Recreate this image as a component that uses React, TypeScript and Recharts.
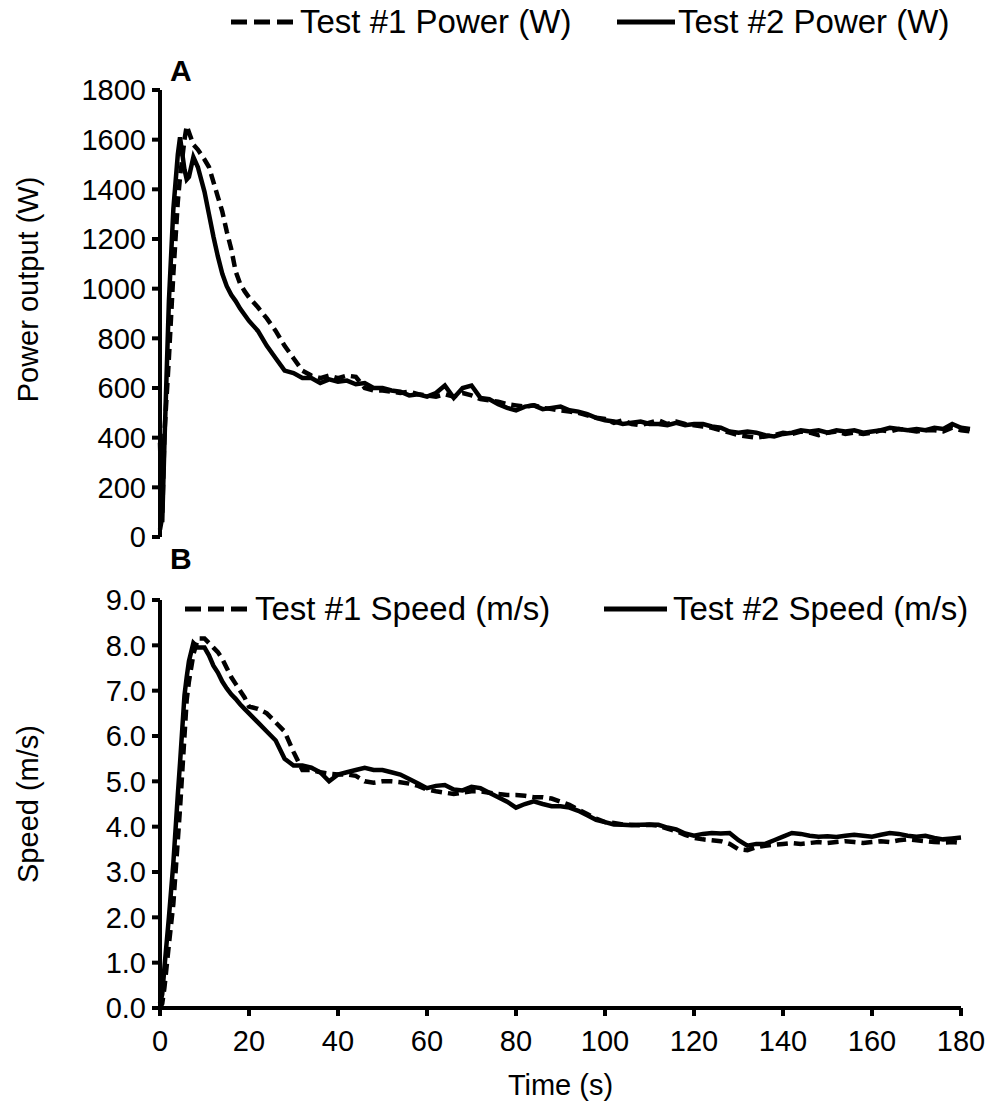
import { LineChart, Line, XAxis, YAxis, Legend } from "recharts";

// time in seconds
const time = [
  0, 0.5, 1, 2, 3, 4, 4.5, 5.5, 6, 6.5, 7.5, 8.5, 10, 11, 12, 13, 14, 15, 16, 17,
  18, 19, 20, 22, 24, 26, 28, 30, 32, 34, 36, 38, 40,
  42, 44, 46, 48, 50, 52, 54, 56, 58, 60, 62, 64, 66, 68, 70, 72, 74, 76, 78, 80,
  82, 84, 86, 88, 90, 92, 94, 96, 98, 100, 102, 104, 106, 108, 110, 112, 114, 116,
  118, 120, 122, 124, 126, 128, 130, 132, 134, 136, 138, 140, 142, 144, 146, 148,
  150, 152, 154, 156, 158, 160, 162, 164, 166, 168, 170, 172, 174, 176, 178, 180,
  182,
];

// Test #1 power (W), dashed
const power1 = [
  30, 80, 420, 720, 1060, 1350, 1450, 1600, 1655, 1630, 1580, 1560, 1520, 1490,
  1430, 1370, 1310, 1230, 1160, 1070, 1020, 990, 965, 925, 880, 830, 770, 720,
  670, 650, 640, 650, 640,
  650, 645, 600, 590, 590, 585, 580, 585, 575, 570,
  565, 575, 565, 580, 570, 555, 550, 545, 535, 530,
  525, 530, 520, 515, 510, 505, 500, 490, 480, 475,
  460, 470, 455, 450, 460, 470, 455, 465, 455, 450,
  445, 440, 430, 420, 410, 405, 400, 405, 410, 420,
  415, 425, 420, 410, 420, 425, 415, 420, 415, 420,
  430, 425, 435, 430, 425, 430, 430, 425, 440, 430,
  425,
];

// Test #2 power (W), solid
const power2 = [
  380, 60, 380, 950, 1320, 1540, 1610, 1480, 1440, 1450, 1530, 1490, 1390, 1300,
  1210, 1130, 1060, 1010, 975, 950, 920, 895, 870, 830, 770, 720, 670, 660, 640,
  640, 620, 635, 625,
  630, 615, 620, 600, 600, 590, 585, 570, 575, 565,
  580, 610, 560, 600, 610, 560, 555, 535, 520, 510,
  525, 530, 515, 520, 525, 510, 505, 495, 480, 470,
  465, 455, 460, 465, 455, 455, 450, 460, 450, 455,
  455, 445, 440, 425, 420, 425, 420, 410, 405, 415,
  420, 430, 425, 430, 420, 430, 425, 430, 420, 425,
  430, 440, 435, 430, 435, 430, 440, 435, 455, 440,
  435,
];

// Test #1 speed (m/s), dashed
const speed1 = [
  0.0, 0.1, 0.45, 1.4, 2.3, 3.7, 4.4, 6.0, 6.8, 7.2, 7.8, 8.15, 8.15, 8.05, 7.95,
  7.85, 7.7, 7.5, 7.3, 7.15, 7.0, 6.85, 6.65, 6.6, 6.5, 6.3, 6.1, 5.65, 5.25, 5.25,
  5.2, 5.17, 5.15,
  5.15, 5.12, 5.0, 4.97, 5.0, 5.0, 4.98, 4.95, 4.9, 4.82,
  4.78, 4.75, 4.72, 4.75, 4.78, 4.78, 4.75, 4.72, 4.7, 4.7,
  4.68, 4.65, 4.65, 4.62, 4.55, 4.48, 4.38, 4.28, 4.18, 4.1,
  4.08, 4.05, 4.04, 4.03, 4.04, 4.02, 3.96, 3.9, 3.82, 3.75,
  3.72, 3.7, 3.68, 3.62, 3.5, 3.48, 3.55, 3.58, 3.6, 3.62,
  3.64, 3.62, 3.64, 3.66, 3.64, 3.66, 3.68, 3.66, 3.64, 3.66,
  3.68, 3.66, 3.7, 3.72, 3.7, 3.68, 3.66, 3.65, 3.66, 3.64,
];

// Test #2 speed (m/s), solid
const speed2 = [
  0.1, 0.3, 0.9, 2.0, 3.2, 4.7, 5.4, 6.9, 7.3, 7.65, 8.05, 7.95, 7.95, 7.78, 7.55,
  7.4, 7.2, 7.05, 6.92, 6.82, 6.7, 6.6, 6.5, 6.3, 6.1, 5.9, 5.5, 5.35, 5.35, 5.3,
  5.2, 5.0, 5.15,
  5.2, 5.25, 5.3, 5.25, 5.25, 5.2, 5.15, 5.05, 4.95, 4.85,
  4.9, 4.92, 4.82, 4.8, 4.88, 4.85, 4.75, 4.65, 4.55, 4.42,
  4.5, 4.56, 4.5, 4.45, 4.45, 4.42, 4.35, 4.25, 4.15, 4.1,
  4.05, 4.04, 4.03, 4.04, 4.05, 4.04, 3.98, 3.94, 3.85, 3.8,
  3.84, 3.86, 3.85, 3.86, 3.7, 3.58, 3.62, 3.62, 3.7, 3.78,
  3.86, 3.84, 3.8, 3.78, 3.79, 3.77, 3.8, 3.82, 3.8, 3.78,
  3.82, 3.86, 3.84, 3.8, 3.78, 3.8, 3.75, 3.72, 3.74, 3.76,
];

const powerTicks = [0, 200, 400, 600, 800, 1000, 1200, 1400, 1600, 1800];
const speedTicks = [0, 1, 2, 3, 4, 5, 6, 7, 8, 9];
const timeTicks = [0, 20, 40, 60, 80, 100, 120, 140, 160, 180];

const powerData = time.map((t, i) => ({ t, p1: power1[i], p2: power2[i] }));
const speedData = time
  .slice(0, speed1.length)
  .map((t, i) => ({ t, s1: speed1[i], s2: speed2[i] }));

const font = "'Liberation Sans', Arial, sans-serif";
const tickStyle = { fill: "#000", fontSize: 29, fontFamily: font };
const axisStroke = { stroke: "#000", strokeWidth: 4 };

const LegendRow = ({ payload, lefts, samples, gaps }: any) => (
  <div style={{ position: "relative", height: 40, fontFamily: font }}>
    {(payload || []).map((e: any, i: number) => (
      <div
        key={e.value}
        style={{
          position: "absolute",
          left: lefts[i],
          top: 0,
          height: 40,
          display: "flex",
          alignItems: "center",
          whiteSpace: "nowrap",
        }}
      >
        <svg width={samples[i]} height={10}>
          <line
            x1={0}
            y1={5}
            x2={samples[i]}
            y2={5}
            stroke="#000"
            strokeWidth={5}
            strokeDasharray={e.payload?.strokeDasharray ? "16 7" : undefined}
          />
        </svg>
        <span style={{ marginLeft: gaps[i], fontSize: 33, color: "#000" }}>{e.value}</span>
      </div>
    ))}
  </div>
);

const yTitle = (text: string, shift: number) => (props: any) => {
  const { x, y, height } = props.viewBox;
  const cx = x + 28;
  const cy = y + height / 2 + shift;
  return (
    <text
      x={cx}
      y={cy}
      transform={`rotate(-90 ${cx} ${cy})`}
      textAnchor="middle"
      dominantBaseline="central"
      fontSize={29}
      fontFamily={font}
      fill="#000"
    >
      {text}
    </text>
  );
};

const xTitle = (props: any) => {
  const { x, y, width } = props.viewBox;
  return (
    <text
      x={x + width / 2}
      y={y + 77}
      textAnchor="middle"
      dominantBaseline="central"
      fontSize={29}
      fontFamily={font}
      fill="#000"
    >
      Time (s)
    </text>
  );
};

const panelTag = (top: number): any => ({
  position: "absolute",
  left: 170,
  top,
  fontFamily: font,
  fontWeight: "bold",
  fontSize: 30,
  color: "#000",
});

export default function App() {
  return (
    <div style={{ position: "absolute", left: 0, top: 0, width: 994, height: 1112, background: "#fff" }}>
      <div style={{ position: "absolute", left: 0, top: 0 }}>
        <LineChart width={994} height={560} data={powerData} margin={{ top: 90, right: 24, bottom: 23, left: 0 }}>
          <XAxis dataKey="t" type="number" domain={[0, 182]} hide />
          <YAxis
            width={160}
            domain={[0, 1800]}
            ticks={powerTicks}
            interval={0}
            tick={tickStyle}
            tickSize={8}
            tickMargin={6}
            axisLine={axisStroke}
            tickLine={axisStroke}
            label={{ content: yTitle("Power output (W)", -24) }}
          />
          <Legend
            layout="horizontal"
            verticalAlign="middle"
            align="center"
            wrapperStyle={{ top: 2, left: 0, width: 994, height: 40 }}
            content={(p: any) => (
              <LegendRow payload={p.payload} lefts={[231, 617]} samples={[63, 58]} gaps={[6, 3]} />
            )}
          />
          <Line
            dataKey="p1"
            name="Test #1 Power (W)"
            stroke="#000"
            strokeWidth={4.5}
            strokeDasharray="11 6"
            dot={false}
            type="linear"
            isAnimationActive={false}
          />
          <Line
            dataKey="p2"
            name="Test #2 Power (W)"
            stroke="#000"
            strokeWidth={4.5}
            dot={false}
            type="linear"
            isAnimationActive={false}
          />
        </LineChart>
      </div>
      <div style={{ position: "absolute", left: 0, top: 560 }}>
        <LineChart width={994} height={552} data={speedData} margin={{ top: 40, right: 33, bottom: 0, left: 0 }}>
          <XAxis
            dataKey="t"
            type="number"
            domain={[0, 180]}
            ticks={timeTicks}
            interval={0}
            height={104}
            tick={tickStyle}
            tickSize={8}
            tickMargin={14}
            axisLine={axisStroke}
            tickLine={axisStroke}
            label={{ content: xTitle }}
          />
          <YAxis
            width={160}
            domain={[0, 9]}
            ticks={speedTicks}
            interval={0}
            tickFormatter={(v: number) => v.toFixed(1)}
            tick={tickStyle}
            tickSize={8}
            tickMargin={6}
            axisLine={axisStroke}
            tickLine={axisStroke}
            label={{ content: yTitle("Speed (m/s)", 0) }}
          />
          <Legend
            layout="horizontal"
            verticalAlign="middle"
            align="center"
            wrapperStyle={{ top: 29, left: 0, width: 994, height: 40 }}
            content={(p: any) => (
              <LegendRow payload={p.payload} lefts={[185, 604]} samples={[62, 63]} gaps={[8, 6]} />
            )}
          />
          <Line
            dataKey="s1"
            name="Test #1 Speed (m/s)"
            stroke="#000"
            strokeWidth={4.5}
            strokeDasharray="11 6"
            dot={false}
            type="linear"
            isAnimationActive={false}
          />
          <Line
            dataKey="s2"
            name="Test #2 Speed (m/s)"
            stroke="#000"
            strokeWidth={4.5}
            dot={false}
            type="linear"
            isAnimationActive={false}
          />
        </LineChart>
      </div>
      <div style={panelTag(54)}>A</div>
      <div style={panelTag(542)}>B</div>
    </div>
  );
}
